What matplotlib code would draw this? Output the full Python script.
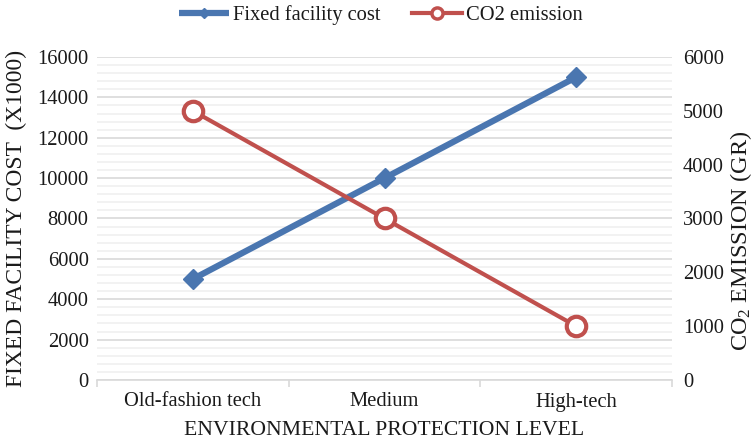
import matplotlib
matplotlib.use("Agg")
import matplotlib.pyplot as plt
from matplotlib.lines import Line2D
from matplotlib.ticker import MultipleLocator, FixedLocator, NullFormatter

plt.rcParams['font.family'] = ['Liberation Serif', 'DejaVu Serif']
plt.rcParams['mathtext.fontset'] = 'custom'
plt.rcParams['mathtext.rm'] = 'Liberation Serif'
plt.rcParams['mathtext.it'] = 'Liberation Serif:italic'

categories = ["Old-fashion tech", "Medium", "High-tech"]
facility_cost = [5000, 10000, 15000]
co2_emission = [5000, 3000, 1000]

blue = "#4a76b0"
red = "#c0504d"
grid_major = "#d9d9d9"
grid_minor = "#f0f0f0"
text_color = "#1a1a1a"

W, H = 755, 447
fig = plt.figure(figsize=(W / 100, H / 100), dpi=100)
ax = fig.add_axes([97 / W, 1 - 380 / H, (672 - 97) / W, (380 - 57) / H])
ax2 = ax.twinx()

x = list(range(len(categories)))

ax.plot(x, facility_cost, color=blue, lw=4.5, marker="D", ms=10,
        mfc=blue, mec=blue, zorder=3, solid_capstyle="butt")
ax2.plot(x, co2_emission, color=red, lw=3, marker="o", ms=14,
         mfc="white", mec=red, mew=3, zorder=3)

ax.set_xlim(-0.5, 2.5)
ax.set_ylim(0, 16000)
ax2.set_ylim(0, 6000)

ax.yaxis.set_major_locator(MultipleLocator(2000))
ax.yaxis.set_minor_locator(MultipleLocator(400))
ax2.yaxis.set_major_locator(MultipleLocator(1000))

ax.grid(which="major", axis="y", color=grid_major, lw=1.2)
ax.grid(which="minor", axis="y", color=grid_minor, lw=1.2)
ax.set_axisbelow(True)

ax.set_xticks(x)
ax.set_xticklabels(categories)
ax.xaxis.set_minor_locator(FixedLocator([-0.5, 0.5, 1.5, 2.5]))
ax.xaxis.set_minor_formatter(NullFormatter())
ax.tick_params(axis="x", which="major", length=0, pad=9, labelsize=14.8, colors=text_color)
ax.tick_params(axis="x", which="minor", length=5, color=grid_major, width=1.2)
ax.tick_params(axis="y", which="both", length=0, pad=6, labelsize=14.8, colors=text_color)
ax2.tick_params(axis="y", which="both", length=0, pad=8, labelsize=14.8, colors=text_color)

for a in (ax, ax2):
    for s in ("top", "left", "right"):
        a.spines[s].set_visible(False)
ax.spines["bottom"].set_color(grid_major)
ax.spines["bottom"].set_linewidth(1.2)
ax2.spines["bottom"].set_visible(False)

ax.set_xlabel("ENVIRONMENTAL PROTECTION LEVEL", fontsize=15.6, color=text_color, labelpad=7)
fig.text(16.5 / W, 1 - 218 / H, "FIXED FACILITY COST  (X1000)", rotation=90,
         ha="center", va="center", fontsize=16.9, color=text_color)
fig.text(741 / W, 1 - 241 / H, r"CO$_2$ EMISSION (GR)", rotation=90,
         ha="center", va="center", fontsize=17.5, color=text_color)

# legend keys use smaller markers than the plotted series
handles = [
    Line2D([], [], color=blue, lw=4.5, marker="D", ms=5, mfc=blue, mec=blue,
           solid_capstyle="butt"),
    Line2D([], [], color=red, lw=3, marker="o", ms=8, mfc="white", mec=red, mew=2.5),
]
fig.legend(handles=handles, labels=["Fixed facility cost", "CO2 emission"],
           loc="center", bbox_to_anchor=(381 / W, 1 - 15 / H),
           ncol=2, frameon=False, fontsize=14.8, handlelength=2.4, columnspacing=1.55,
           handletextpad=0.2, labelcolor=text_color)

fig.savefig("out.png", dpi=100)
